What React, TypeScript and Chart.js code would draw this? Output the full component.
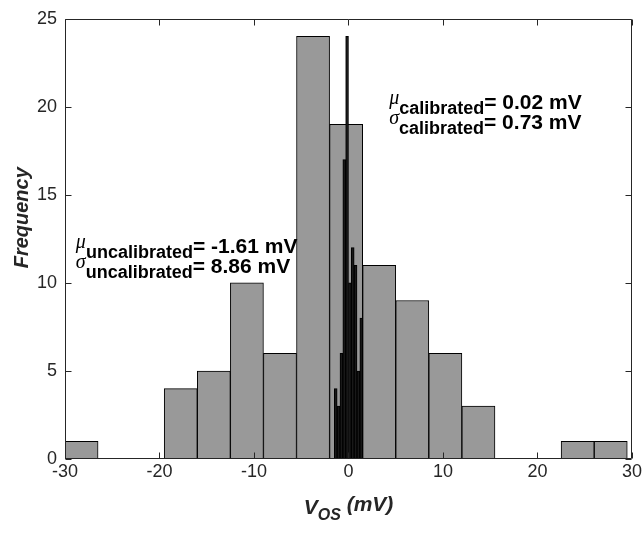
import React, { useEffect, useRef } from 'react';
import { Chart, registerables } from 'chart.js';

Chart.register(...registerables);

// Uncalibrated histogram (bin width 3.5 mV, from -30 mV)
const uncalBinCenters = [-28.25, -24.75, -21.25, -17.75, -14.25, -10.75, -7.25, -3.75, -0.25, 3.25, 6.75, 10.25, 13.75, 17.25, 20.75, 24.25, 27.75];
const uncalCounts = [1, 0, 0, 4, 5, 10, 6, 24, 19, 11, 9, 6, 3, 0, 0, 1, 1];

// Calibrated histogram (bin width 0.3 mV, from -1.5 mV)
const calBinCenters = [-1.35, -1.05, -0.75, -0.45, -0.15, 0.15, 0.45, 0.75, 1.05, 1.35];
const calCounts = [4, 3, 6, 17, 24, 10, 12, 11, 5, 8];

const xTickValues = [-30, -20, -10, 0, 10, 20, 30];
const yTickValues = [0, 5, 10, 15, 20, 25];

const uncalMean = '-1.61';
const uncalStd = '8.86';
const calMean = '0.02';
const calStd = '0.73';

const SANS = '"Liberation Sans", Arial, sans-serif';
const SERIF = '"Liberation Serif", "DejaVu Serif", serif';
const AXIS_COLOR = '#262626';

function drawStatLine(ctx: CanvasRenderingContext2D, x: number, y: number, sym: string, sub: string, main: string) {
  ctx.textAlign = 'left';
  ctx.textBaseline = 'alphabetic';
  ctx.fillStyle = '#000';
  ctx.font = `italic 20px ${SERIF}`;
  ctx.fillText(sym, x, y - 5);
  const w1 = ctx.measureText(sym).width;
  ctx.font = `bold 18px ${SANS}`;
  ctx.fillText(sub, x + w1, y + 5);
  const w2 = ctx.measureText(sub).width;
  ctx.font = `bold 21px ${SANS}`;
  ctx.fillText(main, x + w1 + w2, y);
}

const overlayPlugin = {
  id: 'overlay',
  afterDraw(chart: any) {
    const { ctx, chartArea: a, scales } = chart;
    const xs = scales.x;
    const ys = scales.y;
    ctx.save();
    ctx.strokeStyle = AXIS_COLOR;
    ctx.lineWidth = 1;
    const L = Math.round(a.left) + 0.5;
    const R = Math.round(a.right) - 0.5;
    const T = Math.round(a.top) + 0.5;
    const B = Math.round(a.bottom) - 0.5;
    ctx.beginPath();
    ctx.rect(L, T, R - L, B - T);
    ctx.stroke();
    const tl = 6;
    ctx.beginPath();
    xTickValues.forEach((v) => {
      const px = Math.round(xs.getPixelForValue(v)) + 0.5;
      ctx.moveTo(px, B);
      ctx.lineTo(px, B - tl);
      ctx.moveTo(px, T);
      ctx.lineTo(px, T + tl);
    });
    yTickValues.forEach((v) => {
      const py = Math.round(ys.getPixelForValue(v)) + 0.5;
      ctx.moveTo(L, py);
      ctx.lineTo(L + tl, py);
      ctx.moveTo(R, py);
      ctx.lineTo(R - tl, py);
    });
    ctx.stroke();

    // annotations
    const lx = xs.getPixelForValue(-28.85);
    const ly = ys.getPixelForValue(11.7);
    drawStatLine(ctx, lx, ly, '\u03bc', 'uncalibrated', `= ${uncalMean} mV`);
    drawStatLine(ctx, lx, ly + 20, '\u03c3', 'uncalibrated', `= ${uncalStd} mV`);
    const rx = xs.getPixelForValue(4.3);
    const ry = ys.getPixelForValue(19.85);
    drawStatLine(ctx, rx, ry, '\u03bc', 'calibrated', `= ${calMean} mV`);
    drawStatLine(ctx, rx, ry + 20, '\u03c3', 'calibrated', `= ${calStd} mV`);

    // y axis title
    ctx.save();
    ctx.translate(22, ys.getPixelForValue(13.7));
    ctx.rotate(-Math.PI / 2);
    ctx.font = `italic bold 20px ${SANS}`;
    ctx.fillStyle = AXIS_COLOR;
    ctx.textAlign = 'center';
    ctx.textBaseline = 'middle';
    ctx.fillText('Frequency', 0, 0);
    ctx.restore();

    // x axis title: V_OS (mV)
    const mainFont = `italic bold 21px ${SANS}`;
    const subFont = `italic bold 16px ${SANS}`;
    ctx.font = mainFont;
    const wV = ctx.measureText('V').width;
    const wRest = ctx.measureText(' (mV)').width;
    ctx.font = subFont;
    const wOS = ctx.measureText('OS').width;
    const total = wV + wOS + wRest;
    let cx = (a.left + a.right) / 2 - total / 2;
    const base = a.bottom + 55;
    ctx.fillStyle = AXIS_COLOR;
    ctx.textAlign = 'left';
    ctx.textBaseline = 'alphabetic';
    ctx.font = mainFont;
    ctx.fillText('V', cx, base);
    cx += wV;
    ctx.font = subFont;
    ctx.fillText('OS', cx, base + 6);
    cx += wOS;
    ctx.font = mainFont;
    ctx.fillText(' (mV)', cx, base - 3);
    ctx.restore();
  },
};

export default function App() {
  const canvasRef = useRef<HTMLCanvasElement | null>(null);

  useEffect(() => {
    if (!canvasRef.current) return;
    const chart = new Chart(canvasRef.current, {
      type: 'bar',
      data: {
        datasets: [
          {
            label: 'calibrated',
            data: calBinCenters.map((x, i) => ({ x, y: calCounts[i] })),
            xAxisID: 'x2',
            backgroundColor: 'rgba(25,25,25,0.92)',
            borderColor: '#000',
            borderWidth: 1,
            borderSkipped: false,
            barPercentage: 1,
            categoryPercentage: 1,
            grouped: false,
            order: 0,
          },
          {
            label: 'uncalibrated',
            data: uncalBinCenters.map((x, i) => ({ x, y: uncalCounts[i] })),
            xAxisID: 'x',
            backgroundColor: '#999999',
            borderColor: '#000',
            borderWidth: 1,
            borderSkipped: false,
            barPercentage: 1,
            categoryPercentage: 1,
            grouped: false,
            order: 1,
          },
        ],
      },
      options: {
        animation: false,
        responsive: true,
        maintainAspectRatio: false,
        layout: { padding: { left: 0, top: 12, right: 12, bottom: 0 } },
        plugins: { legend: { display: false }, tooltip: { enabled: false } },
        scales: {
          x: {
            type: 'linear',
            position: 'bottom',
            offset: false,
            min: -30,
            max: 30,
            grid: { display: false, drawTicks: false, offset: false },
            border: { display: false },
            afterBuildTicks: (s: any) => {
              s.ticks = xTickValues.map((v) => ({ value: v }));
            },
            afterFit: (s: any) => {
              s.height = 81;
            },
            ticks: {
              autoSkip: false,
              maxRotation: 0,
              padding: 2,
              color: AXIS_COLOR,
              font: { family: SANS, size: 18 },
            },
          },
          x2: {
            type: 'linear',
            position: 'bottom',
            display: false,
            offset: false,
            grid: { offset: false },
            min: -30,
            max: 30,
          },
          y: {
            type: 'linear',
            min: 0,
            max: 25,
            grid: { display: false, drawTicks: false },
            border: { display: false },
            afterBuildTicks: (s: any) => {
              s.ticks = yTickValues.map((v) => ({ value: v }));
            },
            afterFit: (s: any) => {
              s.width = 65;
            },
            ticks: {
              padding: 8,
              color: AXIS_COLOR,
              font: { family: SANS, size: 18 },
            },
          },
        },
      },
      plugins: [overlayPlugin],
    });
    return () => chart.destroy();
  }, []);

  return (
    <div style={{ position: 'fixed', left: 0, top: 0, width: 644, height: 540, background: '#fff' }}>
      <canvas ref={canvasRef} />
    </div>
  );
}
